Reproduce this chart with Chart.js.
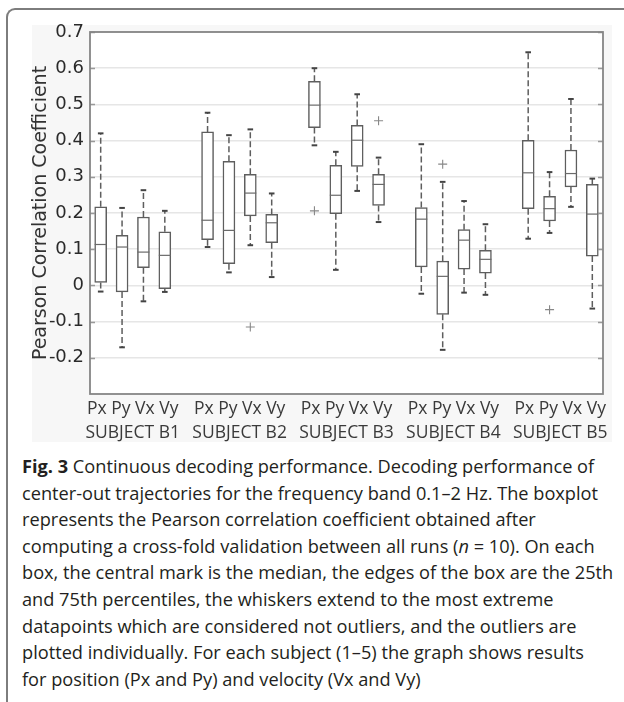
<!DOCTYPE html>
<html>
<head>
<meta charset="utf-8">
<script src="https://cdn.jsdelivr.net/npm/chart.js@4.4.0/dist/chart.umd.min.js"></script>
<style>
  html, body { margin: 0; padding: 0; background: #fff; }
  body { width: 624px; height: 702px; position: relative; overflow: hidden; }
  #frame { position: absolute; left: 6px; top: 8px; width: 640px; height: 720px;
           border-top: 2px solid #7d7d7d; border-left: 2px solid #7d7d7d; border-top-left-radius: 9px; }
  #paper { position: absolute; left: 32px; top: 25px; width: 580px; height: 417px; background: #f7f7f7; }
  #chart { position: absolute; left: 0; top: 0; }
  #caption { position: absolute; left: 22px; top: 453px; width: 600px;
             font-family: "Open Sans", "Noto Sans", sans-serif; font-size: 18.2px; line-height: 26.6px;
             color: #231f20; white-space: nowrap; }
  #caption b { font-weight: 700; }
</style>
</head>
<body>
<div id="frame"></div>
<div id="paper"></div>
<canvas id="chart" width="624" height="450"></canvas>
<div id="caption">
  <div><b>Fig. 3</b> Continuous decoding performance. Decoding performance of</div>
  <div>center-out trajectories for the frequency band 0.1–2 Hz. The boxplot</div>
  <div>represents the Pearson correlation coefficient obtained after</div>
  <div>computing a cross-fold validation between all runs (<i>n</i> = 10). On each</div>
  <div>box, the central mark is the median, the edges of the box are the 25th</div>
  <div>and 75th percentiles, the whiskers extend to the most extreme</div>
  <div>datapoints which are considered not outliers, and the outliers are</div>
  <div>plotted individually. For each subject (1–5) the graph shows results</div>
  <div>for position (Px and Py) and velocity (Vx and Vy)</div>
</div>
<script>
const subjects = ['SUBJECT B1', 'SUBJECT B2', 'SUBJECT B3', 'SUBJECT B4', 'SUBJECT B5'];
const signals = ['Px', 'Py', 'Vx', 'Vy'];

// one entry per box: B1 Px, Py, Vx, Vy, B2 Px, ...
const whiskerHigh = [0.420, 0.214, 0.263, 0.206, 0.477, 0.415, 0.431, 0.254, 0.600, 0.369, 0.528, 0.353, 0.390, 0.286, 0.233, 0.169, 0.644, 0.313, 0.515, 0.295];
const upperQuartile = [0.217, 0.138, 0.189, 0.148, 0.424, 0.343, 0.307, 0.196, 0.564, 0.332, 0.442, 0.307, 0.215, 0.067, 0.154, 0.097, 0.401, 0.246, 0.374, 0.279];
const medians = [0.113, 0.106, 0.092, 0.083, 0.180, 0.152, 0.255, 0.173, 0.498, 0.249, 0.401, 0.279, 0.183, 0.025, 0.125, 0.072, 0.311, 0.212, 0.309, 0.197];
const lowerQuartile = [0.008, -0.018, 0.049, -0.009, 0.126, 0.060, 0.192, 0.118, 0.436, 0.198, 0.329, 0.221, 0.051, -0.080, 0.045, 0.034, 0.212, 0.178, 0.272, 0.081];
const whiskerLow = [-0.017, -0.171, -0.044, -0.018, 0.106, 0.036, 0.111, 0.023, 0.387, 0.043, 0.261, 0.175, -0.023, -0.178, -0.020, -0.026, 0.129, 0.145, 0.217, -0.064];

// outliers: index of the box they belong to, and value
const outlierBox = [6, 8, 11, 13, 17];
const outlierValue = [-0.115, 0.206, 0.455, 0.335, -0.067];

const yTicks = [0.7, 0.6, 0.5, 0.4, 0.3, 0.2, 0.1, 0, -0.1, -0.2];

// box i sits at slot group*5 + k + 1, leaving one empty slot between subjects
const positions = whiskerHigh.map((_, i) => Math.floor(i / 4) * 5 + (i % 4) + 1);
const groupCenters = subjects.map((_, g) => g * 5 + 2.5);

const boxColor = '#5e5e5e';

const boxes = positions.map((x, i) => ({ x: x, y: [lowerQuartile[i], upperQuartile[i]] }));

const whiskers = [];
positions.forEach((x, i) => {
  whiskers.push({ x: x, y: upperQuartile[i] }, { x: x, y: whiskerHigh[i] }, { x: x, y: null });
  whiskers.push({ x: x, y: lowerQuartile[i] }, { x: x, y: whiskerLow[i] }, { x: x, y: null });
});

const caps = [];
positions.forEach((x, i) => {
  caps.push({ x: x, y: whiskerHigh[i] }, { x: x, y: whiskerLow[i] });
});

const medianMarks = positions.map((x, i) => ({ x: x, y: medians[i] }));
const outlierMarks = outlierBox.map((b, i) => ({ x: positions[b], y: outlierValue[i] }));

// frame around the plot plus small inward ticks on both sides
const framePlugin = {
  id: 'frame',
  beforeDraw(chart) {
    const { ctx, chartArea: a } = chart;
    ctx.save();
    ctx.fillStyle = '#fff';
    ctx.fillRect(a.left, a.top, a.right - a.left, a.bottom - a.top);
    ctx.restore();
  },
  afterDraw(chart) {
    const { ctx, chartArea: a } = chart;
    const y = chart.scales.y;
    ctx.save();
    ctx.strokeStyle = '#999';
    ctx.lineWidth = 1.5;
    yTicks.forEach((v) => {
      const py = Math.round(y.getPixelForValue(v)) + 0.5;
      ctx.beginPath();
      ctx.moveTo(a.left, py);
      ctx.lineTo(a.left + 5, py);
      ctx.moveTo(a.right - 5, py);
      ctx.lineTo(a.right, py);
      ctx.stroke();
    });
    ctx.strokeStyle = '#858585';
    ctx.lineWidth = 1.8;
    ctx.strokeRect(a.left, a.top, a.right - a.left, a.bottom - a.top);
    ctx.restore();
  }
};

new Chart(document.getElementById('chart'), {
  type: 'bar',
  data: {
    datasets: [
      {
        type: 'line',
        data: whiskers,
        borderColor: boxColor,
        borderWidth: 1.5,
        borderDash: [6, 3],
        pointRadius: 0,
        spanGaps: false,
        order: 3
      },
      {
        type: 'bar',
        data: boxes,
        backgroundColor: 'rgba(255,255,255,1)',
        borderColor: boxColor,
        borderWidth: 1.5,
        borderSkipped: false,
        barThickness: 12,
        order: 2
      },
      {
        type: 'scatter',
        data: caps,
        pointStyle: 'line',
        pointRadius: 2.8,
        borderColor: '#444',
        borderWidth: 2,
        order: 1
      },
      {
        type: 'scatter',
        data: medianMarks,
        pointStyle: 'line',
        pointRadius: 6,
        borderColor: '#6a6a6a',
        borderWidth: 1.2,
        order: 0
      },
      {
        type: 'scatter',
        data: outlierMarks,
        pointStyle: 'cross',
        pointRadius: 4.5,
        borderColor: '#888',
        borderWidth: 1.1,
        order: 0
      }
    ]
  },
  options: {
    responsive: false,
    animation: false,
    events: [],
    layout: { padding: { left: 30, right: 21, top: 32, bottom: 0 } },
    plugins: {
      legend: { display: false },
      tooltip: { enabled: false }
    },
    scales: {
      x: {
        type: 'linear',
        min: 0.5,
        max: 24.5,
        offset: false,
        grid: { display: false, drawTicks: false },
        border: { display: false },
        afterBuildTicks(scale) {
          scale.ticks = groupCenters.map((v) => ({ value: v }));
        },
        afterFit(scale) {
          scale.height = 56;
        },
        ticks: {
          autoSkip: false,
          maxRotation: 0,
          padding: 3,
          color: '#3a3a3a',
          font: { family: '"Open Sans", "Noto Sans", sans-serif', size: 17.5, lineHeight: 1.37 },
          callback: (value) => {
            const g = groupCenters.indexOf(value);
            return g < 0 ? '' : [signals.join(' '), subjects[g]];
          }
        }
      },
      y: {
        min: -0.3,
        max: 0.7,
        grid: { color: '#e6e6e6', lineWidth: 1.5, drawTicks: false },
        border: { display: false },
        afterBuildTicks(scale) {
          scale.ticks = yTicks.map((v) => ({ value: v }));
        },
        afterFit(scale) {
          scale.width = 60;
        },
        ticks: {
          padding: 6,
          color: '#2a2a2a',
          font: { family: '"DejaVu Sans", sans-serif', size: 18 },
          callback: (value) => (Math.round(value * 10) / 10).toString()
        },
        title: {
          display: true,
          text: 'Pearson Correlation Coefficient',
          color: '#333',
          padding: 0,
          font: { family: '"DejaVu Sans", sans-serif', size: 19 }
        }
      }
    }
  },
  plugins: [framePlugin]
});
</script>
</body>
</html>
